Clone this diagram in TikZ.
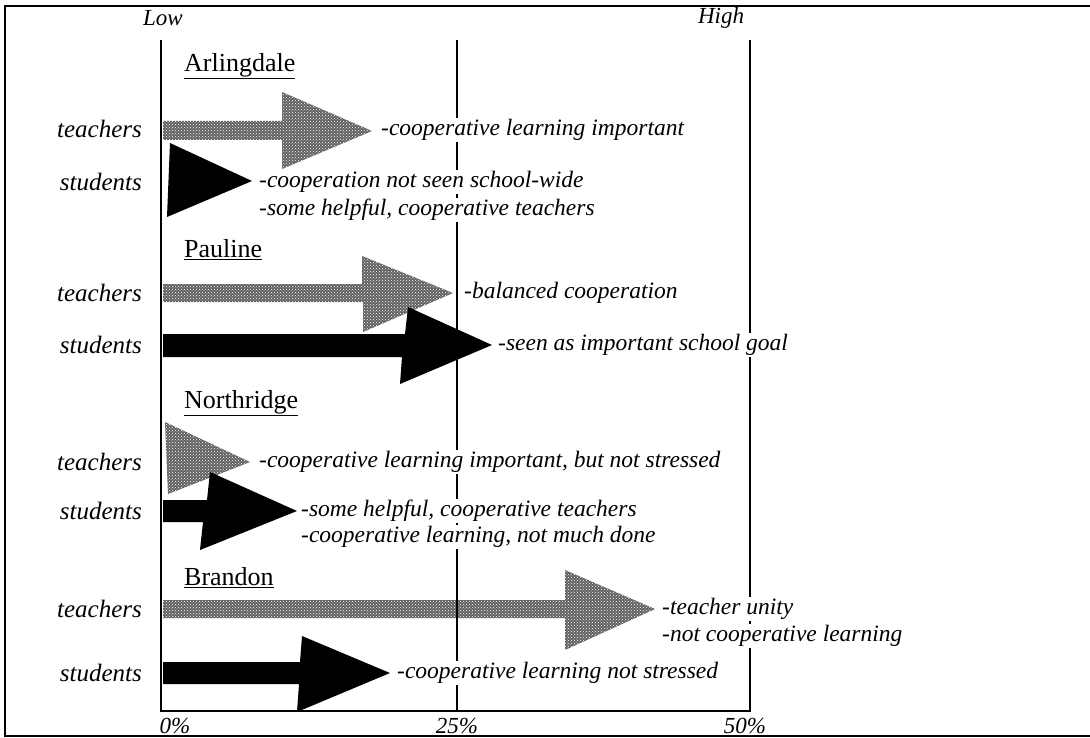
\documentclass[tikz,border=0pt]{standalone}
\usepackage{fontspec}
\setmainfont{Liberation Serif}
\usetikzlibrary{patterns}
\newcommand{\notesize}[1]{\fontsize{#1}{#1}\selectfont\itshape}
\begin{document}
\begin{tikzpicture}[x=1pt,y=-1pt,
  note/.style={font=\notesize{23.5}, inner sep=1pt, fill=white, anchor=west},
  grp/.style={font=\notesize{25}, inner sep=0pt, anchor=east},
  school/.style={font=\fontsize{26}{28}\selectfont, inner sep=0pt, anchor=west},
  scalelbl/.style={font=\notesize{23}, inner sep=0pt},
  axisline/.style={line width=2.2pt},
  shaded/.style={fill=black!62, postaction={pattern=crosshatch dots, pattern color=white}},
  dark/.style={fill=black}]
\useasboundingbox (0,0) rectangle (1090,738);
\fill[white] (0,0) rectangle (1090,738);

% outer frame (open to the right)
\draw[line width=2.2pt] (1100,6) -- (5,6) -- (5,736) -- (1100,736);

% Arlingdale
\fill[shaded] (163,121) -- (282,121) -- (282,92) -- (372,131) -- (282,169) -- (282,140) -- (163,140) -- cycle;
\fill[dark] (170,143) -- (252,181) -- (167,217) -- cycle;
% Pauline
\fill[shaded] (163,284) -- (362,284) -- (362,256) -- (453,293) -- (363,332) -- (363,302) -- (163,302) -- cycle;
\fill[dark] (163,334) -- (405,334) -- (408,307) -- (492,345) -- (400,384) -- (402,357) -- (163,357) -- cycle;
% Northridge
\fill[shaded] (165,422) -- (250,462) -- (168,494) -- cycle;
\fill[dark] (163,500) -- (207,500) -- (210,472) -- (297,511) -- (200,550) -- (203,522) -- (163,522) -- cycle;
% Brandon
\fill[shaded] (163,600) -- (565,600) -- (565,570) -- (655,609) -- (565,650) -- (565,618) -- (163,618) -- cycle;
\fill[dark] (163,662) -- (300,662) -- (302,636) -- (390,673) -- (297,712) -- (299,684) -- (163,684) -- cycle;

% scale lines
\coordinate (lowtop) at (161,40);
\coordinate (lowbot) at (161,711);
\coordinate (midtop) at (457,40);
\coordinate (midbot) at (457,711);
\coordinate (hightop) at (750,40);
\coordinate (highbot) at (750,711);
\draw[axisline] (lowtop) -- (lowbot) -- (highbot) -- (hightop);
\draw[axisline] (midtop) -- (midbot);

\node[scalelbl] (low) at (163,18) {Low};
\node[scalelbl] (high) at (721,18) {High};
\node[scalelbl] (p0) at (175,726) {0\%};
\node[scalelbl] (p25) at (457,726) {25\%};
\node[scalelbl] (p50) at (745,726) {50\%};

% school names
\node[school] (arl) at (184,66) {\underline{Arlingdale}};
\node[school] (pau) at (184,250) {\underline{Pauline}};
\node[school] (nor) at (184,403) {\underline{Northridge}};
\node[school] (bra) at (184,578) {\underline{Brandon}};

% group labels
\node[grp] (arlt) at (142,129) {teachers};
\node[grp] (arls) at (142,182) {students};
\node[grp] (paut) at (142,293) {teachers};
\node[grp] (paus) at (142,345) {students};
\node[grp] (nort) at (142,462) {teachers};
\node[grp] (nors) at (142,511) {students};
\node[grp] (brat) at (142,609) {teachers};
\node[grp] (bras) at (142,673) {students};

% comments beside the arrows
\node[note] (arltn) at (380,130) {-cooperative learning important};
\node[note] (arlsn) at (258,182) {-cooperation not seen school-wide};
\node[note] (arlsn2) at (258,210) {-some helpful, cooperative teachers};
\node[note] (pautn) at (463,293) {-balanced cooperation};
\node[note] (pausn) at (497,345) {-seen as important school goal};
\node[note] (nortn) at (258,462) {-cooperative learning important, but not stressed};
\node[note] (norsn) at (300,511) {-some helpful, cooperative teachers};
\node[note] (norsn2) at (300,537) {-cooperative learning, not much done};
\node[note] (bratn) at (661,609) {-teacher unity};
\node[note] (bratn2) at (661,636) {-not cooperative learning};
\node[note] (brasn) at (396,673) {-cooperative learning not stressed};
\end{tikzpicture}
\end{document}
